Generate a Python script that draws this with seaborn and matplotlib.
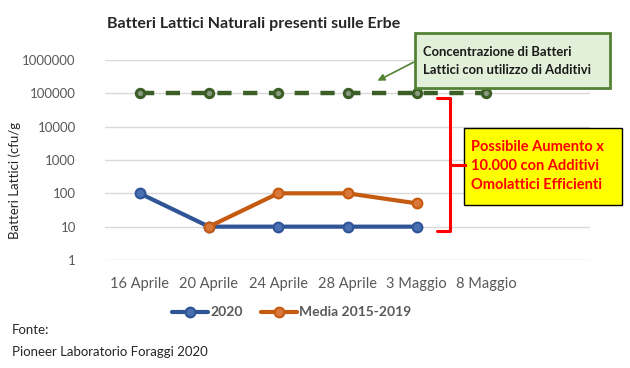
import numpy as np
import pandas as pd
import seaborn as sns
import matplotlib.pyplot as plt
from matplotlib.patches import FancyBboxPatch

# data
dates = ['16 Aprile', '20 Aprile', '24 Aprile', '28 Aprile', '3 Maggio', '8 Maggio', '']
serie_2020 = [100, 10, 10, 10, 10, np.nan, np.nan]
media_2015_2019 = [np.nan, 10, 100, 100, 50, np.nan, np.nan]
con_additivi = [100000, 100000, 100000, 100000, 100000, 100000, np.nan]
y_ticks = [1, 10, 100, 1000, 10000, 100000, 1000000]

sns.set_style('white')
plt.rcParams['font.family'] = ['Lato', 'DejaVu Sans']

blue = '#2f5597'
orange = '#c55a11'
green = '#3b5e27'
grey = '#595959'

fig = plt.figure(figsize=(6.3, 3.68), dpi=100)
ax = fig.add_axes([0.1667, 0.2935, 0.7698, 0.5435])

pos = np.arange(len(dates))
df = pd.DataFrame({'pos': pos, '2020': serie_2020, 'Media 2015-2019': media_2015_2019,
                   'add': con_additivi})

sns.lineplot(data=df, x='pos', y='add', ax=ax, color=green, lw=3.2,
             linestyle=(0, (3.2, 2.6)), marker='o', markersize=6,
             markeredgecolor=green, markerfacecolor='#8a9a80', markeredgewidth=2.2)
sns.lineplot(data=df, x='pos', y='2020', ax=ax, color=blue, lw=3, marker='o',
             markersize=7, markeredgecolor=blue, markerfacecolor='#4a6fb0',
             markeredgewidth=1.5, label='2020')
sns.lineplot(data=df, x='pos', y='Media 2015-2019', ax=ax, color=orange, lw=3,
             marker='o', markersize=7, markeredgecolor=orange,
             markerfacecolor='#d9783a', markeredgewidth=1.5, label='Media 2015-2019')

ax.set_yscale('log')
ax.set_ylim(1, 1000000)
ax.set_yticks(y_ticks)
ax.set_yticklabels([str(v) for v in y_ticks])
ax.minorticks_off()
ax.set_xlim(-0.5, 6.5)
ax.set_xticks(pos[:6])
ax.set_xticklabels(dates[:6])
ax.grid(axis='y', color='#d9d9d9', lw=1)
ax.set_axisbelow(True)
for s in ax.spines.values():
    s.set_visible(False)
ax.tick_params(axis='y', length=0, labelsize=9.5, labelcolor=grey, pad=21)
ax.tick_params(axis='x', length=0, labelsize=10.5, labelcolor=grey, pad=12)
ax.set_xlabel('')
ax.set_ylabel('')
fig.text(15 / 630, 1 - 180 / 368, 'Batteri Lattici (cfu/g', fontsize=9.5, color='#262626',
         rotation=90, ha='center', va='center')

leg = ax.legend(loc='upper center', bbox_to_anchor=(0.385, -0.17), ncol=2, frameon=False,
                fontsize=10, handlelength=2.6, columnspacing=1.3, handletextpad=0.15)
for t in leg.get_texts():
    t.set_color(grey)
    t.set_fontweight('bold')

fig.text(0.17, 0.925, 'Batteri Lattici Naturali presenti sulle Erbe', fontsize=11.5,
         fontweight='bold', color='#262626')
fig.text(0.019, 1 - 330 / 368, 'Fonte:', fontsize=9.5, color='#262626', va='center')
fig.text(0.019, 1 - 352 / 368, 'Pioneer Laboratorio Foraggi 2020', fontsize=9.5,
         color='#262626', va='center')

# green callout
fig.patches.append(FancyBboxPatch((415 / 630, 1 - 88 / 368), 195 / 630, 55 / 368,
                                  boxstyle='square,pad=0', transform=fig.transFigure,
                                  facecolor='#e2efd9', edgecolor='#548235', lw=2))
fig.text(423 / 630, 1 - 61 / 368, 'Concentrazione di Batteri\nLattici con utilizzo di Additivi',
         fontsize=9.4, fontweight='bold', color='#1a1a1a', va='center', linespacing=1.6)
ax.annotate('', xy=(375 / 630, 1 - 82 / 368), xytext=(416 / 630, 1 - 61 / 368),
            xycoords='figure fraction', textcoords='figure fraction',
            arrowprops=dict(arrowstyle='-|>', color='#548235', lw=1.2))

# red brace
bx = [437, 450, 450, 465, 450, 450, 437]
by = [98, 98, 165, 165, 165, 231, 231]
fig.add_artist(plt.Line2D([x / 630 for x in bx], [1 - y / 368 for y in by],
                          transform=fig.transFigure, color='#ff0000', lw=2.2))

# yellow box
fig.patches.append(FancyBboxPatch((464 / 630, 1 - 205 / 368), 158 / 630, 77 / 368,
                                  boxstyle='square,pad=0', transform=fig.transFigure,
                                  facecolor='#ffff00', edgecolor='#000000', lw=1))
fig.text(471 / 630, 1 - 166 / 368, 'Possibile Aumento x\n10.000 con Additivi\nOmolattici Efficienti',
         fontsize=10.5, fontweight='bold', color='#ff0000', va='center', linespacing=1.45)

fig.savefig('out.png', dpi=100)
